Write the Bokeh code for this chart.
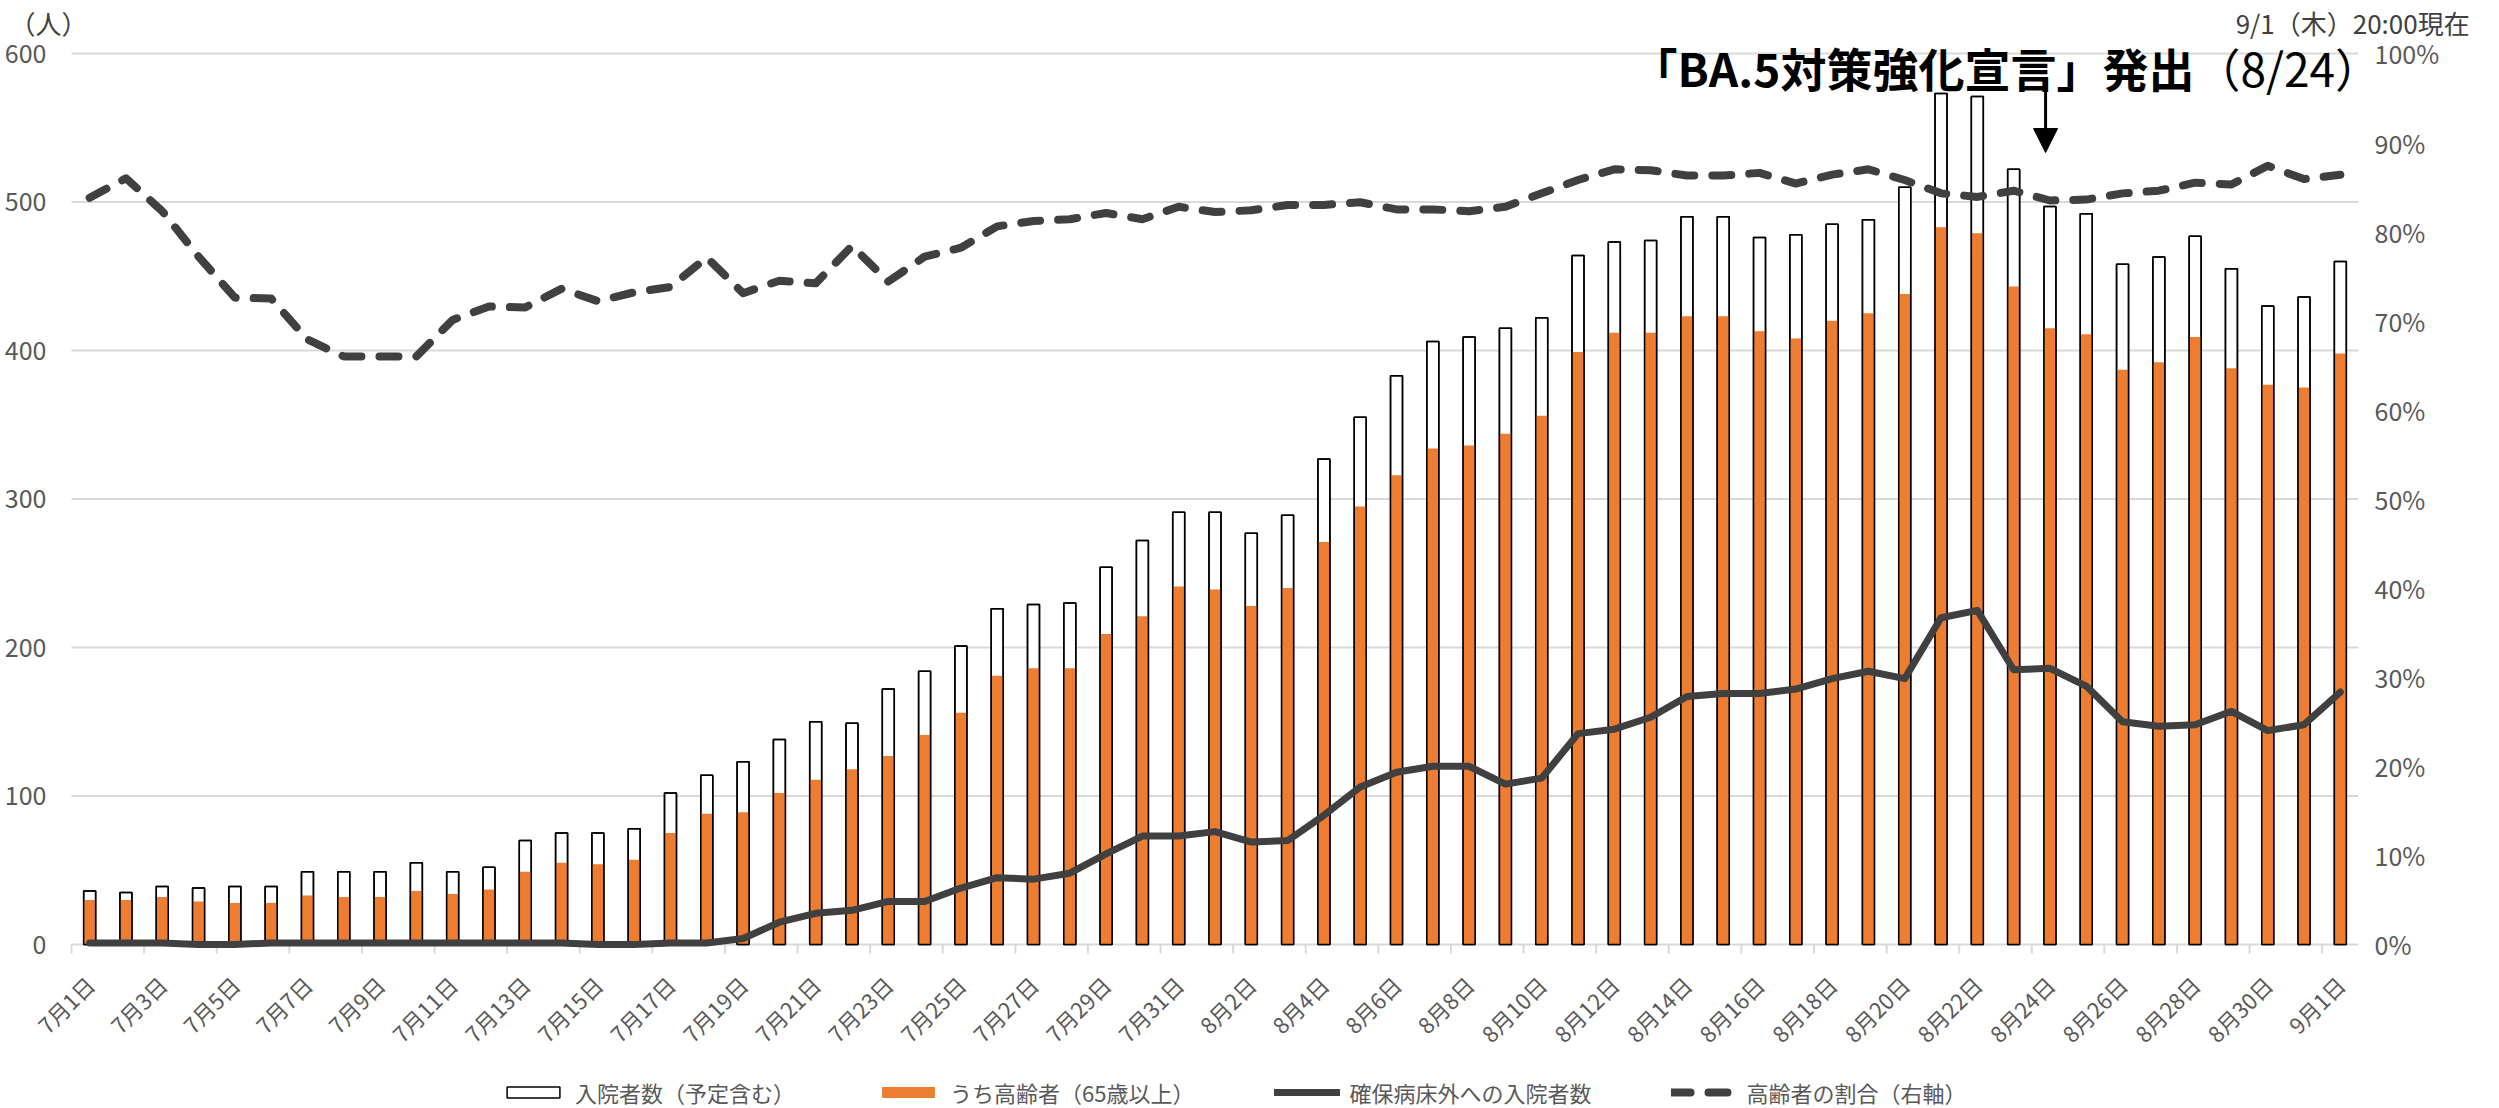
from bokeh.plotting import figure
from bokeh.models import (ColumnDataSource, Range1d, LinearAxis, FixedTicker,
                          PrintfTickFormatter, Legend, LegendItem, Label, Arrow, NormalHead)
from bokeh.core.properties import value
from bokeh.embed import file_html
from bokeh.resources import INLINE
import math

# ---------------- data ----------------
dates = ([f"7月{d}日" for d in range(1, 32)] +
         [f"8月{d}日" for d in range(1, 32)] + ["9月1日"])

total = [36, 35, 39, 38, 39, 39, 49, 49, 49, 55,
         49, 52, 70, 75, 75, 78, 102, 114, 123, 138,
         150, 149, 172, 184, 201, 226, 229, 230, 254, 272,
         291, 291, 277, 289, 327, 355, 383, 406, 409, 415,
         422, 464, 473, 474, 490, 490, 476, 478, 485, 488,
         510, 573, 571, 522, 497, 492, 458, 463, 477, 455,
         430, 436, 460]

elderly = [30, 30, 32, 29, 28, 28, 33, 32, 32, 36,
           34, 37, 49, 55, 54, 57, 75, 88, 89, 102,
           111, 118, 127, 141, 156, 181, 186, 186, 209, 221,
           241, 239, 228, 240, 271, 295, 316, 334, 336, 344,
           356, 399, 412, 412, 423, 423, 413, 408, 420, 425,
           438, 483, 479, 443, 415, 411, 387, 392, 409, 388,
           377, 375, 398]

outside_beds = [1, 1, 1, 0, 0, 1, 1, 1, 1, 1,
                1, 1, 1, 1, 0, 0, 1, 1, 4, 15,
                21, 23, 29, 29, 38, 45, 44, 48, 61, 73,
                73, 76, 69, 70, 87, 106, 116, 120, 120, 108,
                112, 142, 145, 153, 167, 169, 169, 172, 179, 184,
                179, 220, 225, 185, 186, 174, 150, 147, 148, 157,
                144, 148, 170]

elderly_ratio = [83.8, 86.0, 82.3, 77.2, 72.6, 72.5, 67.9, 66.0, 66.0, 66.0,
                 70.1, 71.6, 71.5, 73.6, 72.2, 73.2, 73.8, 77.1, 73.1, 74.5,
                 74.2, 78.4, 74.4, 77.2, 78.2, 80.6, 81.2, 81.4, 82.1, 81.4,
                 82.8, 82.2, 82.4, 83.0, 83.0, 83.3, 82.5, 82.5, 82.3, 82.8,
                 84.3, 85.8, 87.0, 86.9, 86.3, 86.3, 86.6, 85.4, 86.4, 87.0,
                 85.8, 84.3, 83.9, 84.6, 83.5, 83.6, 84.3, 84.6, 85.5, 85.3,
                 87.4, 85.9, 86.4]

left_ticks = [0, 100, 200, 300, 400, 500, 600]
right_ticks = [0, 10, 20, 30, 40, 50, 60, 70, 80, 90, 100]

series_names = ["入院者数（予定含む）", "うち高齢者（65歳以上）",
                "確保病床外への入院者数", "高齢者の割合（右軸）"]
unit_label = "（人）"
asof_label = "9/1（木）20:00現在"
headline = "「BA.5対策強化宣言」発出"
headline_date = "（8/24）"
headline_day = 53.88   # 8/24 category position (index)

FONT = "Noto Sans CJK JP"
GRAY = "#595959"
GRID = "#d9d9d9"
ORANGE = "#ED7D31"
DARK = "#404040"

n = len(dates)
idx = list(range(n))
src = ColumnDataSource(dict(x=idx, total=total, elderly=elderly,
                            outside=outside_beds, ratio=elderly_ratio))
lab_src = ColumnDataSource(dict(x=idx[::2], text=dates[::2]))
bounds = [i - 0.5 for i in idx[::2]]

X0 = -1.905          # left end of x range (room for the first rotated date label)
Y0 = -111.8          # room below zero for the date labels and legend
Y1 = 604.7           # room above the 600 line for the headline

p = figure(frame_width=2338, frame_height=1064,
           x_range=Range1d(X0, n - 0.5), y_range=Range1d(Y0, Y1),
           output_backend="svg", toolbar_location=None,
           min_border_left=20, min_border_right=125, min_border_top=36,
           min_border_bottom=0)
p.extra_y_ranges = {"pct": Range1d(Y0 / 6.0, Y1 / 6.0)}
p.outline_line_color = None
p.background_fill_color = "white"
p.border_fill_color = "white"
p.title.visible = False

# horizontal grid lines across the category span (the 0 line is the category axis line)
p.xgrid.visible = False
p.ygrid.visible = False
p.segment(x0=-0.5, x1=n - 0.5, y0=left_ticks, y1=left_ticks,
          line_color=GRID, line_width=2)

# category axis: tick marks between every two days and rotated date labels
p.xaxis.visible = False
p.segment(x0=bounds, y0=0, x1=bounds, y1=-6.1, line_color=GRID, line_width=2)
p.text(x="x", y=-24, text="text", source=lab_src, angle=math.pi / 4,
       text_align="right", text_baseline="middle", text_font=value(FONT),
       text_font_size="22px", text_color=GRAY)

# left axis
ya = p.yaxis[0]
ya.ticker = FixedTicker(ticks=left_ticks)
ya.axis_line_color = None
ya.major_tick_line_color = None
ya.minor_tick_line_color = None
ya.major_tick_out = 0
ya.major_tick_in = 0
ya.minor_tick_out = 0
ya.major_label_text_font = FONT
ya.major_label_text_font_size = "25px"
ya.major_label_text_color = GRAY
ya.major_label_standoff = -26

# right axis (percent)
ra = LinearAxis(y_range_name="pct", ticker=FixedTicker(ticks=right_ticks),
                formatter=PrintfTickFormatter(format="%d%%"))
ra.axis_line_color = None
ra.major_tick_line_color = None
ra.minor_tick_line_color = None
ra.major_tick_out = 0
ra.major_tick_in = 0
ra.minor_tick_out = 0
ra.major_label_text_font = FONT
ra.major_label_text_font_size = "25px"
ra.major_label_text_color = GRAY
ra.major_label_standoff = 16
p.add_layout(ra, "right")

# top axis carrying the unit label and the timestamp
UNIT_X = -1.134
ASOF_X = 62.34
ta = LinearAxis(ticker=FixedTicker(ticks=[UNIT_X, ASOF_X]))
ta.major_label_overrides = {UNIT_X: unit_label, ASOF_X: asof_label}
ta.axis_line_color = None
ta.major_tick_line_color = None
ta.minor_tick_line_color = None
ta.major_tick_out = 0
ta.major_tick_in = 0
ta.minor_tick_out = 0
ta.major_label_text_font = FONT
ta.major_label_text_font_size = "26px"
ta.major_label_text_color = DARK
ta.major_label_standoff = 6
p.add_layout(ta, "above")

BW = 0.33
r_total = p.vbar(x="x", top="total", width=BW, source=src, fill_color="white",
                 line_color="black", line_width=1.5)
r_eld = p.vbar(x="x", top="elderly", width=BW, source=src, fill_color=ORANGE,
               line_color=None)
p.vbar(x="x", top="total", width=BW, source=src, fill_color=None,
       line_color="black", line_width=1.5)

r_out = p.line(x="x", y="outside", source=src, line_color=DARK, line_width=7,
               line_join="round", line_cap="round")
r_ratio = p.line(x="x", y="ratio", source=src, y_range_name="pct", line_color=DARK,
                 line_width=8, line_dash="19 18", line_cap="round", line_join="round")

legend = Legend(items=[LegendItem(label=series_names[0], renderers=[r_total]),
                       LegendItem(label=series_names[1], renderers=[r_eld]),
                       LegendItem(label=series_names[2], renderers=[r_out]),
                       LegendItem(label=series_names[3], renderers=[r_ratio])],
                orientation="horizontal", location=(480, 2),
                glyph_width=66, glyph_height=14, label_standoff=9, spacing=80,
                label_text_font=FONT, label_text_font_size="22px",
                label_text_color=GRAY, border_line_color=None,
                background_fill_alpha=0, margin=0, padding=0)
p.add_layout(legend)

# headline with arrow to 8/24
p.add_layout(Label(x=57.98, y=591.2, text=headline, text_font=FONT,
                   text_font_size="46px", text_font_style="bold", text_color="black",
                   text_align="right", text_baseline="middle"))
p.add_layout(Label(x=57.98, y=591.2, text=headline_date, text_font=FONT,
                   text_font_size="46px", text_color="black",
                   text_align="left", text_baseline="middle"))
p.add_layout(Arrow(x_start=headline_day, y_start=577, x_end=headline_day, y_end=533.3,
                   line_color="black", line_width=3,
                   end=NormalHead(size=24, fill_color="black", line_color="black")))

open("out.html", "w").write(file_html(p, INLINE))
